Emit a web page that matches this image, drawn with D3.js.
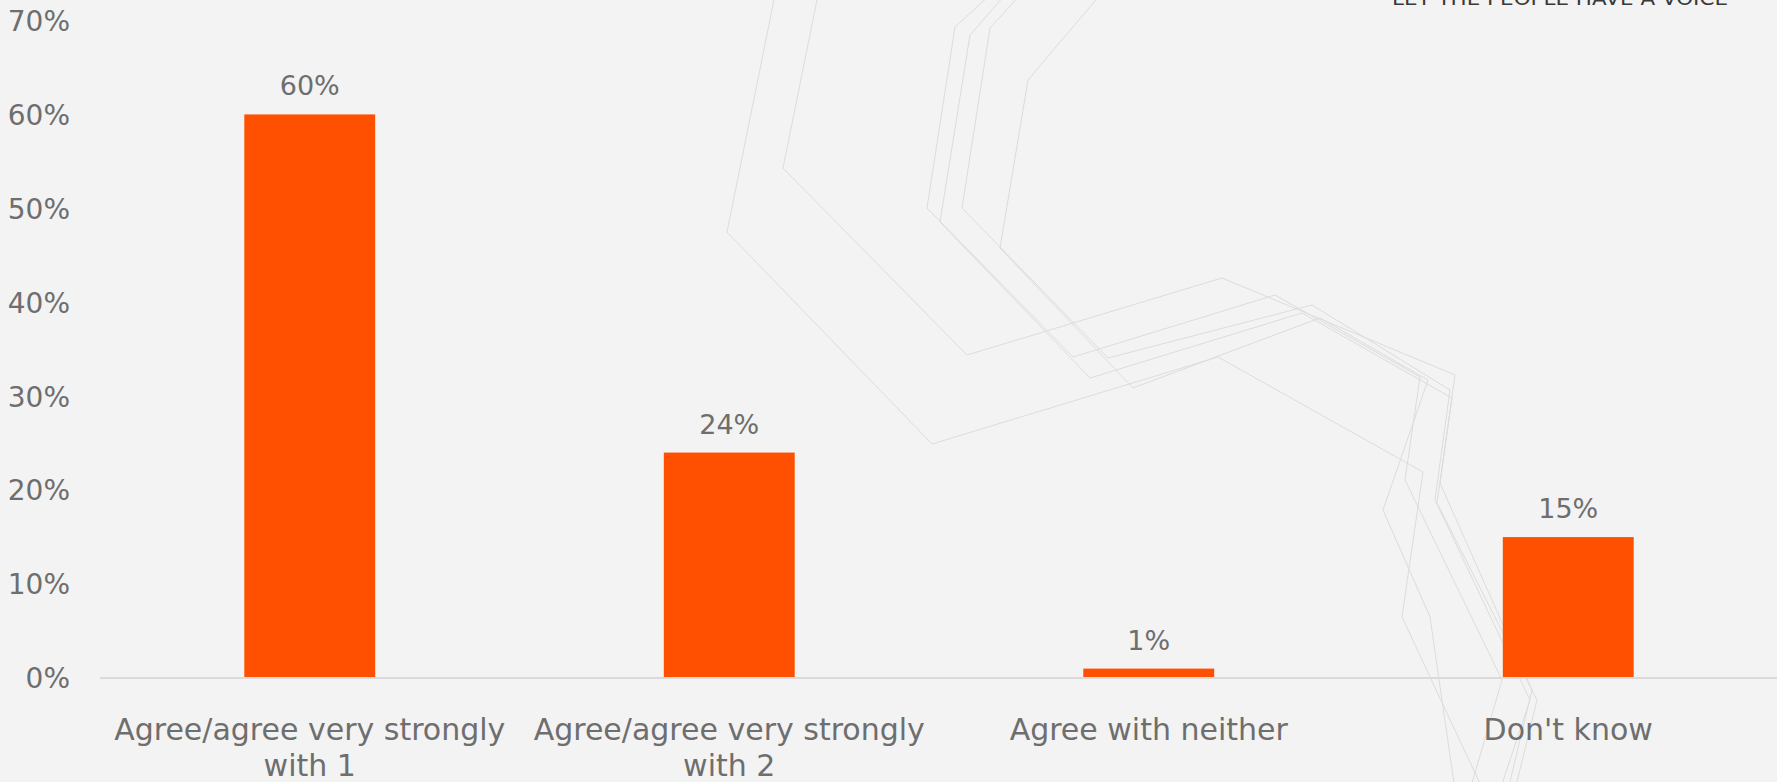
<!DOCTYPE html>
<html>
<head>
<meta charset="utf-8">
<script src="https://cdn.jsdelivr.net/npm/d3@7"></script>
<style>
  html, body { margin: 0; padding: 0; background: #f3f3f3; overflow: hidden; }
  svg { display: block; }
</style>
</head>
<body>
<svg id="chart" width="1777" height="782"></svg>
<script>
// ---- data ----
const categories = [
  ["Agree/agree very strongly", "with 1"],
  ["Agree/agree very strongly", "with 2"],
  ["Agree with neither"],
  ["Don't know"]
];
const values = [0.60, 0.24, 0.01, 0.15];
const valueLabels = ["60%", "24%", "1%", "15%"];
const yTicks = [0, 0.1, 0.2, 0.3, 0.4, 0.5, 0.6, 0.7];
const yTickLabels = ["0%", "10%", "20%", "30%", "40%", "50%", "60%", "70%"];
const headerText = "LET THE PEOPLE HAVE A VOICE";

// slide-template ornament (decorative background, not data)
const ornament = [
  [[775,-5],[727,232],[932,444],[1218,357],[1423,472],[1402,617],[1483,790]],
  [[818,-5],[783,168],[967,355],[1222,278],[1455,375],[1440,483],[1532,690],[1508,790]],
  [[990,-5],[955,27],[927,208],[1073,357],[1275,295],[1420,377],[1405,480],[1502,680],[1470,790]],
  [[1005,-5],[970,35],[940,222],[1090,378],[1302,313],[1452,398],[1437,503],[1537,700],[1515,790]],
  [[1020,-5],[990,28],[962,208],[1108,358],[1312,305],[1450,390],[1435,500],[1530,700],[1500,790]],
  [[1100,-5],[1028,80],[1000,248],[1133,388],[1320,318],[1428,380],[1383,510],[1430,617],[1455,790]]
];

const svg = d3.select("#chart");
const W = 1777, H = 782;
const FONT = "'Century Gothic', 'DejaVu Sans', sans-serif";
const TEXT = "#6e6e6e";

svg.append("rect").attr("width", W).attr("height", H).attr("fill", "#f3f3f3");

// ornament
svg.append("g").selectAll("path").data(ornament).join("path")
  .attr("d", d3.line())
  .attr("fill", "none")
  .attr("stroke", "#dcdcdc")
  .attr("stroke-width", 1);

// header (mostly clipped at top, as in the slide)
svg.append("text")
  .attr("x", 1728).attr("y", 5)
  .attr("text-anchor", "end")
  .attr("font-family", "'DejaVu Sans', sans-serif")
  .attr("font-size", 20)
  .attr("fill", "#3a3a3a")
  .attr("textLength", 336)
  .attr("lengthAdjust", "spacingAndGlyphs")
  .text(headerText);

// scales
const x = d3.scaleBand()
  .domain(d3.range(categories.length))
  .range([100, 1778])
  .paddingInner(0.688)
  .paddingOuter(0.344);
const y = d3.scaleLinear().domain([0, 0.7]).range([678, 20.5]);

// y axis labels
const yAxis = d3.axisLeft(y).tickValues(yTicks).tickSize(0).tickPadding(0)
  .tickFormat((d, i) => yTickLabels[i]);
const gy = svg.append("g").attr("transform", "translate(70,0)").call(yAxis);
gy.select(".domain").remove();
gy.selectAll("text")
  .attr("font-family", FONT).attr("font-size", 28).attr("fill", TEXT)
  .attr("dy", "0.35em");

// bars
svg.append("g").selectAll("rect").data(values).join("rect")
  .attr("x", (d, i) => x(i))
  .attr("width", x.bandwidth())
  .attr("y", d => y(d))
  .attr("height", d => y(0) - y(d))
  .attr("fill", "#FE5000");

// baseline
svg.append("line")
  .attr("x1", 100).attr("x2", W)
  .attr("y1", y(0)).attr("y2", y(0))
  .attr("stroke", "#dadada").attr("stroke-width", 2);

// value labels
svg.append("g").selectAll("text").data(values).join("text")
  .attr("x", (d, i) => x(i) + x.bandwidth() / 2)
  .attr("y", d => y(d) - 19)
  .attr("text-anchor", "middle")
  .attr("font-family", FONT).attr("font-size", 27).attr("fill", TEXT)
  .text((d, i) => valueLabels[i]);

// category labels
const cat = svg.append("g").selectAll("text").data(categories).join("text")
  .attr("x", (d, i) => x(i) + x.bandwidth() / 2)
  .attr("y", 740)
  .attr("text-anchor", "middle")
  .attr("font-family", FONT).attr("font-size", 30).attr("fill", TEXT);
cat.selectAll("tspan").data(d => d).join("tspan")
  .attr("x", function() { return d3.select(this.parentNode).attr("x"); })
  .attr("dy", (d, j) => j === 0 ? 0 : 36)
  .text(d => d);
</script>
</body>
</html>
